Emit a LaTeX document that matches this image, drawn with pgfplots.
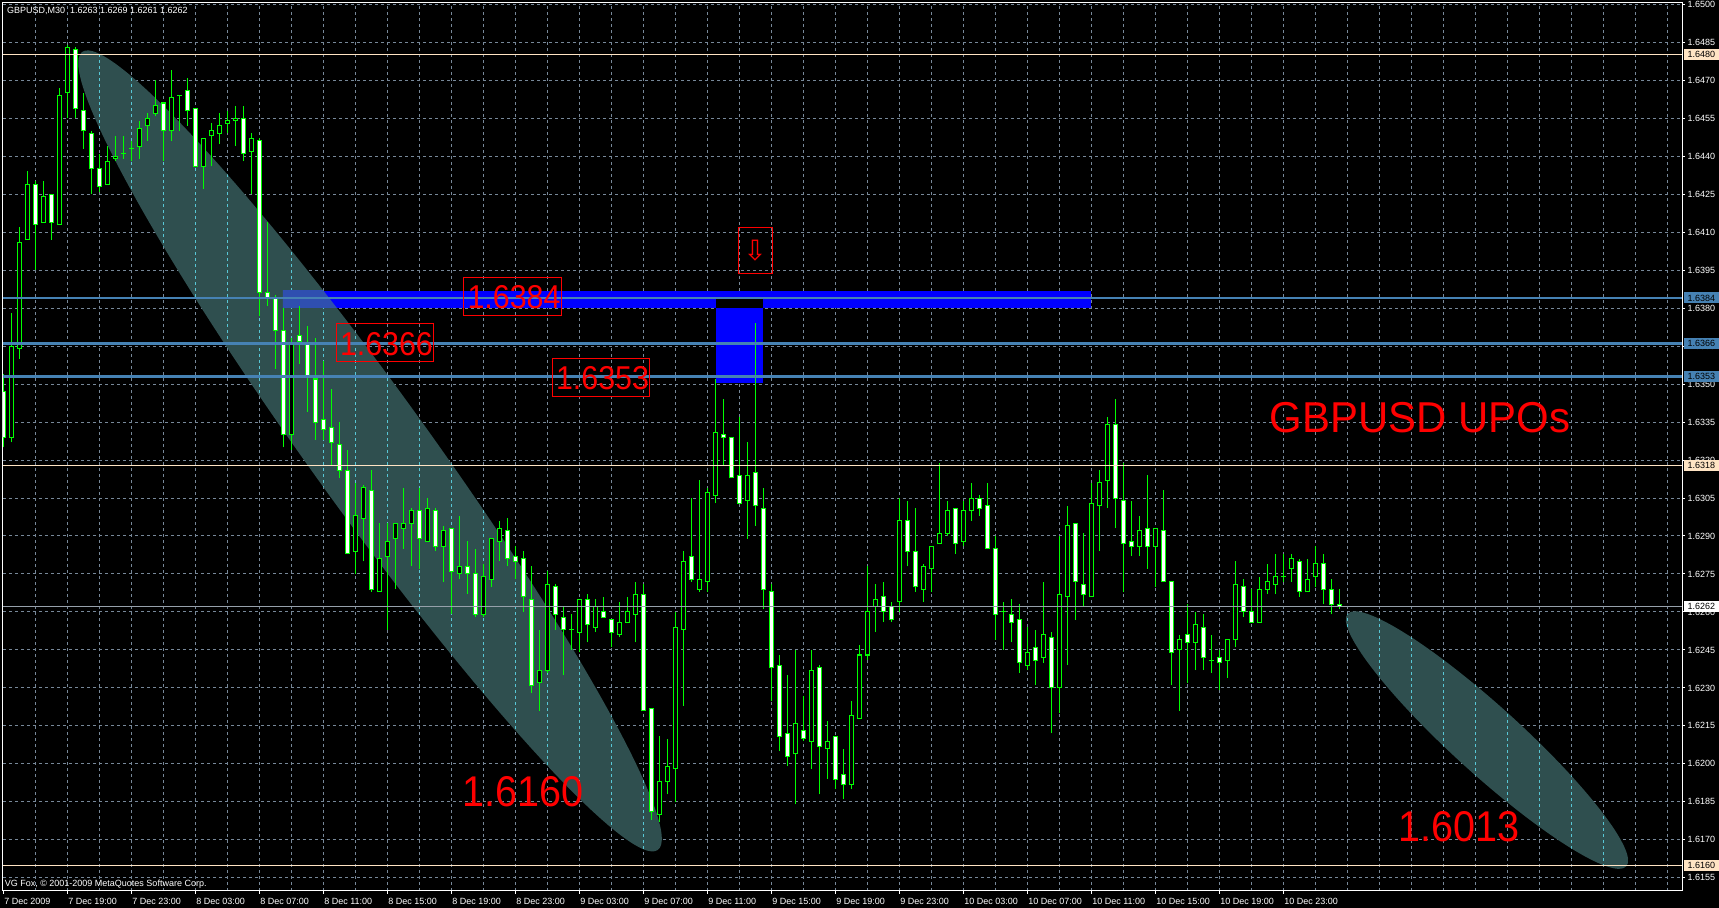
\documentclass[border=0pt]{standalone}
\usepackage{pgfplots}
\pgfplotsset{compat=1.18}
\usepackage{pgfplotstable}
\usepackage{graphicx}
\usepackage{fontspec}
\setmainfont{Liberation Sans}
\newfontfamily\sym{DejaVu Sans}
\definecolor{mtgreen}{RGB}{0,255,0}
\definecolor{gridc}{RGB}{119,136,153}
\definecolor{gridx}{RGB}{88,199,214}
\definecolor{bisq}{RGB}{255,228,196}
\definecolor{steel}{RGB}{70,130,180}
\definecolor{dsg}{RGB}{47,79,79}
\definecolor{dsgblue}{RGB}{47,79,176}
\definecolor{bidc}{RGB}{150,160,170}
\newcommand\lbl{\fontsize{4.5pt}{5pt}\selectfont}

\pgfplotstableread{
i o h l c
-8 16347 16354 16325 16329
-7 16329 16378 16327 16365
-6 16364 16412 16360 16406
-5 16407 16434 16407 16429
-4 16429 16430 16395 16413
-3 16414 16430 16414 16424
-2 16425 16425 16407 16414
-1 16413 16467 16413 16464
0 16465 16484 16455 16483
1 16482 16483 16455 16459
2 16458 16465 16443 16450
3 16449 16450 16425 16435
4 16435 16441 16426 16428
5 16429 16444 16429 16438
6 16439 16448 16438 16440
7 16441 16448 16439 16441
8 16443 16446 16438 16443
9 16444 16454 16439 16451
10 16452 16457 16446 16455
11 16457 16470 16456 16460
12 16461 16461 16438 16450
13 16450 16474 16446 16463
14 16464 16464 16450 16464
15 16466 16471 16452 16458
16 16459 16459 16436 16436
17 16436 16447 16427 16447
18 16448 16453 16436 16450
19 16449 16457 16445 16452
20 16453 16458 16449 16454
21 16454 16460 16444 16455
22 16455 16460 16438 16441
23 16442 16449 16425 16447
24 16446 16447 16377 16386
25 16386 16414 16381 16384
26 16384 16385 16356 16371
27 16371 16380 16325 16330
28 16330 16368 16324 16366
29 16369 16381 16358 16367
30 16366 16373 16339 16353
31 16352 16368 16328 16335
32 16336 16359 16328 16332
33 16333 16348 16318 16327
34 16326 16335 16313 16316
35 16316 16324 16283 16283
36 16284 16311 16275 16298
37 16297 16310 16280 16309
38 16308 16316 16268 16269
39 16268 16295 16268 16281
40 16282 16295 16253 16288
41 16289 16295 16269 16295
42 16293 16309 16285 16295
43 16295 16301 16278 16300
44 16300 16309 16277 16289
45 16288 16305 16288 16301
46 16300 16301 16284 16286
47 16286 16294 16272 16292
48 16293 16293 16259 16276
49 16275 16298 16273 16278
50 16278 16288 16267 16275
51 16275 16285 16258 16259
52 16259 16279 16258 16274
53 16273 16289 16270 16289
54 16288 16296 16280 16293
55 16292 16297 16278 16281
56 16282 16286 16273 16280
57 16281 16284 16260 16266
58 16265 16278 16228 16231
59 16232 16253 16221 16237
60 16237 16276 16236 16271
61 16270 16271 16253 16259
62 16258 16262 16235 16253
63 16253 16259 16245 16253
64 16252 16265 16244 16265
65 16265 16267 16248 16255
66 16254 16265 16252 16262
67 16260 16266 16258 16258
68 16257 16257 16246 16252
69 16251 16264 16250 16256
70 16256 16266 16256 16260
71 16259 16272 16248 16267
72 16267 16271 16221 16221
73 16222 16222 16178 16181
74 16180 16211 16177 16193
75 16193 16210 16188 16199
76 16198 16260 16185 16254
77 16253 16284 16223 16280
78 16282 16305 16272 16273
79 16269 16312 16268 16273
80 16272 16309 16268 16307
81 16306 16352 16303 16331
82 16330 16344 16318 16329
83 16329 16329 16313 16313
84 16314 16337 16303 16303
85 16304 16327 16289 16314
86 16315 16374 16294 16302
87 16301 16309 16261 16269
88 16268 16271 16225 16238
89 16239 16243 16205 16211
90 16212 16235 16199 16203
91 16204 16245 16184 16216
92 16213 16227 16209 16210
93 16209 16245 16198 16237
94 16238 16239 16188 16207
95 16206 16217 16194 16209
96 16211 16211 16190 16194
97 16196 16206 16186 16192
98 16192 16225 16190 16219
99 16218 16247 16218 16243
100 16243 16278 16241 16260
101 16262 16271 16252 16265
102 16266 16272 16256 16260
103 16262 16264 16256 16257
104 16264 16305 16260 16296
105 16296 16304 16278 16284
106 16284 16301 16268 16270
107 16269 16279 16264 16278
108 16277 16286 16268 16286
109 16287 16319 16287 16291
110 16291 16304 16290 16300
111 16301 16301 16283 16287
112 16288 16304 16286 16300
113 16300 16311 16296 16305
114 16305 16306 16298 16301
115 16302 16311 16285 16285
116 16285 16290 16249 16259
117 16260 16264 16245 16260
118 16259 16265 16248 16256
119 16257 16263 16236 16240
120 16239 16254 16237 16244
121 16246 16253 16231 16241
122 16242 16272 16240 16251
123 16250 16252 16212 16230
124 16230 16290 16220 16267
125 16266 16302 16239 16294
126 16295 16295 16257 16272
127 16271 16291 16262 16267
128 16266 16311 16266 16303
129 16302 16316 16284 16311
130 16312 16337 16301 16334
131 16334 16344 16293 16305
132 16304 16319 16268 16287
133 16288 16304 16282 16286
134 16286 16298 16282 16292
135 16293 16314 16277 16286
136 16286 16293 16270 16293
137 16292 16308 16272 16272
138 16272 16272 16231 16244
139 16245 16251 16221 16249
140 16251 16263 16232 16248
141 16248 16260 16237 16255
142 16254 16259 16237 16242
143 16241 16251 16236 16241
144 16242 16245 16229 16240
145 16241 16249 16234 16249
146 16249 16280 16246 16271
147 16270 16273 16258 16260
148 16260 16269 16256 16256
149 16256 16274 16256 16269
150 16269 16279 16267 16272
151 16271 16283 16267 16274
152 16274 16283 16272 16274
153 16277 16283 16272 16281
154 16280 16281 16266 16268
155 16268 16281 16268 16273
156 16274 16286 16270 16279
157 16279 16283 16263 16269
158 16269 16273 16259 16263
159 16263 16269 16261 16262
}\candles

\begin{document}
\begin{tikzpicture}
\fill[black] (0,0) rectangle (859.5pt,454pt);
\useasboundingbox (0,0) rectangle (859.5pt,454pt);
\begin{axis}[
  at={(1.5pt,8.5pt)}, anchor=south west,
  scale only axis, width=839.5pt, height=444pt,
  xmin=-8.04, xmax=201.84, ymin=16149.8, ymax=16500.5,
  axis line style={white, line width=0.5pt},
  xtick={-8,0,...,152},
  xticklabels={7 Dec 2009, 7 Dec 19:00, 7 Dec 23:00, 8 Dec 03:00, 8 Dec 07:00, 8 Dec 11:00, 8 Dec 15:00, 8 Dec 19:00, 8 Dec 23:00, 9 Dec 03:00, 9 Dec 07:00, 9 Dec 11:00, 9 Dec 15:00, 9 Dec 19:00, 9 Dec 23:00, 10 Dec 03:00, 10 Dec 07:00, 10 Dec 11:00, 10 Dec 15:00, 10 Dec 19:00, 10 Dec 23:00},
  minor xtick={-4,0,...,200},
  ytick={16155,16170,...,16500},
  yticklabels={1.6155,1.6170,1.6185,1.6200,1.6215,1.6230,1.6245,1.6260,1.6275,1.6290,1.6305,1.6320,1.6335,1.6350,1.6365,1.6380,1.6395,1.6410,1.6425,1.6440,1.6455,1.6470,1.6485,1.6500},
  ymajorgrids, xminorgrids,
  grid style={gridc, dash pattern=on 1.5pt off 1.5pt, line width=0.5pt},
  minor grid style={gridc, dash pattern=on 1.5pt off 1.5pt, line width=0.5pt},
  tick align=outside,
  major tick length=1.5pt,
  minor tick length=0pt,
  xtick pos=left, ytick pos=right, yticklabel pos=right,
  tick style={white, line width=0.5pt},
  xticklabel style={font=\lbl, text=white, anchor=north west, inner sep=0pt, xshift=0.3pt, yshift=-2pt},
  yticklabel style={font=\lbl, text=white, anchor=west, inner sep=0pt, xshift=1.15pt},
]
% ellipses
\fill[dsg, rotate around={-54.2:(axis cs:37.84,16323.6)}] (axis cs:37.84,16323.6) ellipse [x radius=246pt, y radius=29.5pt];
\fill[dsg, rotate around={-42.2:(axis cs:177.46,16209.4)}] (axis cs:177.46,16209.4) ellipse [x radius=94pt, y radius=17pt];
% grid XOR inside ellipses
\begin{scope}
\clip[rotate around={-54.2:(axis cs:37.84,16323.6)}] (axis cs:37.84,16323.6) ellipse [x radius=246pt, y radius=29.5pt];
\pgfplotsinvokeforeach{-4,0,...,200}{\draw[gridx, dash pattern=on 1.5pt off 1.5pt, line width=0.5pt] (axis cs:#1,16149.8) -- (axis cs:#1,16500.5);}
\end{scope}
\begin{scope}
\clip[rotate around={-42.2:(axis cs:177.46,16209.4)}] (axis cs:177.46,16209.4) ellipse [x radius=94pt, y radius=17pt];
\pgfplotsinvokeforeach{-4,0,...,200}{\draw[gridx, dash pattern=on 1.5pt off 1.5pt, line width=0.5pt] (axis cs:#1,16149.8) -- (axis cs:#1,16500.5);}
\end{scope}
% blue rectangles
\fill[blue] (axis cs:26.96,16380.2) rectangle (axis cs:127.96,16386.8);
\fill[blue] (axis cs:81.09,16350.3) rectangle (axis cs:86.96,16384.1);
\fill[black] (axis cs:81.09,16380.2) rectangle (axis cs:86.96,16384.1);
\begin{scope}
\clip (axis cs:26.96,16380.2) rectangle (axis cs:127.96,16386.8);
\fill[dsgblue, rotate around={-54.2:(axis cs:37.84,16323.6)}] (axis cs:37.84,16323.6) ellipse [x radius=246pt, y radius=29.5pt];
\end{scope}
% candles: wicks
\addplot[draw=none, mark=none, error bars/.cd, y dir=plus, y explicit, error mark=none,
  error bar style={draw=mtgreen, line width=0.5pt}]
  table[x=i, y=l, y error expr={\thisrow{h}-\thisrow{l}}] {\candles};
% bodies outline
\addplot[draw=none, mark=none, error bars/.cd, y dir=plus, y explicit, error mark=none,
  error bar style={draw=mtgreen, line width=2.5pt}]
  table[x=i, y expr={min(\thisrow{o},\thisrow{c})-0.2}, y error expr={abs(\thisrow{o}-\thisrow{c})+0.4}] {\candles};
% inner black
\addplot[draw=none, mark=none, error bars/.cd, y dir=plus, y explicit, error mark=none,
  error bar style={draw=black, line width=1.5pt}]
  table[x=i, y expr={min(\thisrow{o},\thisrow{c})+0.2}, y error expr={max(abs(\thisrow{o}-\thisrow{c})-0.4,0)}] {\candles};
% inner white for bearish
\addplot[draw=none, mark=none, error bars/.cd, y dir=plus, y explicit, error mark=none,
  error bar style={draw=white, line width=1.5pt}]
  table[x=i, y expr={min(\thisrow{o},\thisrow{c})+0.2}, y error expr={ifthenelse(\thisrow{c}<\thisrow{o}, max(abs(\thisrow{o}-\thisrow{c})-0.4,0), 0)}] {\candles};
% horizontal levels
\draw[bisq, line width=0.5pt] (axis cs:-8.04,16480) -- (axis cs:201.84,16480);
\draw[bisq, line width=0.5pt] (axis cs:-8.04,16318) -- (axis cs:201.84,16318);
\draw[bisq, line width=0.5pt] (axis cs:-8.04,16160) -- (axis cs:201.84,16160);
\draw[bidc, line width=0.5pt] (axis cs:-8.04,16262) -- (axis cs:201.84,16262);
\draw[steel, line width=1.3pt] (axis cs:-8.04,16384) -- (axis cs:201.84,16384);
\draw[steel, line width=1.3pt] (axis cs:-8.04,16366) -- (axis cs:201.84,16366);
\draw[steel, line width=1.3pt] (axis cs:-8.04,16353) -- (axis cs:201.84,16353);
% red labels
\draw[red, line width=0.5pt] (axis cs:49.55,16377.2) rectangle (axis cs:61.8,16392.2);
\node[text=red, inner sep=0pt, font=\fontsize{16.5pt}{16.5pt}\selectfont] at (axis cs:55.84,16384.3) {\scalebox{0.92}[1]{1.6384}};
\draw[red, line width=0.5pt] (axis cs:33.68,16359.0) rectangle (axis cs:45.80,16374.0);
\node[text=red, inner sep=0pt, font=\fontsize{16.5pt}{16.5pt}\selectfont] at (axis cs:39.89,16365.8) {\scalebox{0.92}[1]{1.6366}};
\draw[red, line width=0.5pt] (axis cs:60.66,16345.2) rectangle (axis cs:72.78,16360.2);
\node[text=red, inner sep=0pt, font=\fontsize{16.5pt}{16.5pt}\selectfont] at (axis cs:66.9,16352.3) {\scalebox{0.92}[1]{1.6353}};
\draw[red, line width=0.5pt] (axis cs:83.84,16393.8) rectangle (axis cs:88.14,16411.7);
\node[text=red, inner sep=0pt, font=\sym\fontsize{14pt}{14pt}\selectfont] at (axis cs:85.99,16402.75) {⇩};
\node[text=red, inner sep=0pt, font=\fontsize{21.6pt}{21.6pt}\selectfont] at (axis cs:169.1,16336.8) {\scalebox{0.97}[1]{GBPUSD UPOs}};
\node[text=red, inner sep=0pt, font=\fontsize{21.5pt}{21.5pt}\selectfont] at (axis cs:57.01,16188.9) {\scalebox{0.92}[1]{1.6160}};
\node[text=red, inner sep=0pt, font=\fontsize{21.5pt}{21.5pt}\selectfont] at (axis cs:173.99,16175.2) {\scalebox{0.92}[1]{1.6013}};
% coordinates for right-hand price boxes
\coordinate (L1) at (axis cs:201.84,16480);
\coordinate (L2) at (axis cs:201.84,16384);
\coordinate (L3) at (axis cs:201.84,16366);
\coordinate (L4) at (axis cs:201.84,16353);
\coordinate (L5) at (axis cs:201.84,16318);
\coordinate (L6) at (axis cs:201.84,16262);
\coordinate (L7) at (axis cs:201.84,16160);
\end{axis}
\tikzset{pbox/.style={anchor=west, inner sep=0pt, minimum width=17.3pt, minimum height=5.5pt, font=\lbl, text=black}}
\node[pbox, fill=bisq] at ([xshift=0.85pt]L1) {1.6480};
\node[pbox, fill=steel] at ([xshift=0.85pt]L2) {1.6384};
\node[pbox, fill=steel] at ([xshift=0.85pt]L3) {1.6366};
\node[pbox, fill=steel] at ([xshift=0.85pt]L4) {1.6353};
\node[pbox, fill=bisq] at ([xshift=0.85pt]L5) {1.6318};
\node[pbox, fill=white] at ([xshift=0.85pt]L6) {1.6262};
\node[pbox, fill=bisq] at ([xshift=0.85pt]L7) {1.6160};
\node[anchor=base west, inner sep=0pt, text=white, font=\lbl] at (3.3pt,447pt) {GBPUSD,M30\ \ 1.6263 1.6269 1.6261 1.6262};
\node[anchor=base west, inner sep=0pt, text=white, font=\lbl] at (2.2pt,10.65pt) {VG Fox, © 2001-2009 MetaQuotes Software Corp.};
\end{tikzpicture}
\end{document}
